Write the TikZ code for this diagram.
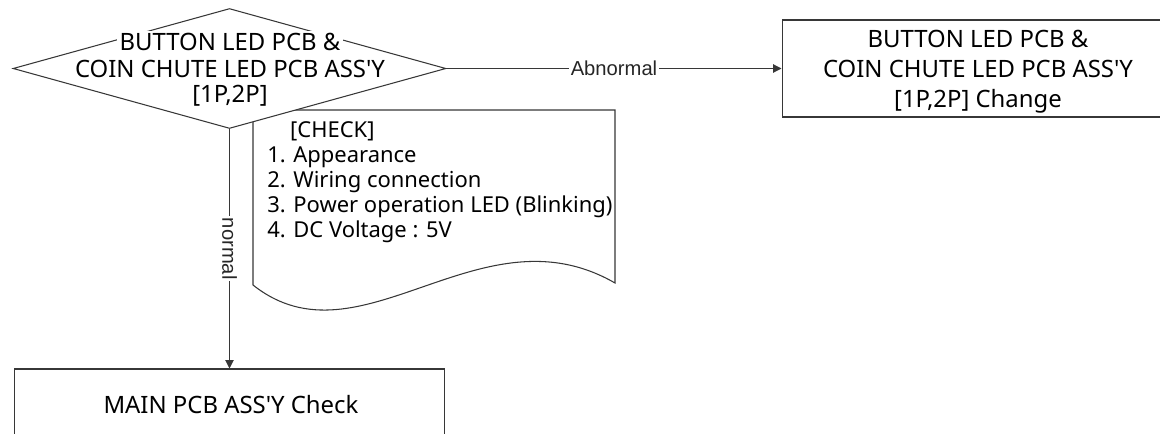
\documentclass[tikz,border=0pt]{standalone}
\usepackage{fontspec}
\setmainfont{Noto Sans}
\newfontfamily\labelfont{Liberation Sans}
\usetikzlibrary{arrows.meta,shapes.geometric,positioning}
\definecolor{lngray}{RGB}{55,55,55}
\tikzstyle{arrow} = [line width=0.6pt,draw=lngray,-{Triangle[length=4.8pt,width=4.8pt]}]
\tikzstyle{procbox} = [rectangle, draw=lngray, line width=0.6pt, fill=white, inner sep=0pt]
\tikzstyle{boxtext} = [align=center, inner sep=0pt, font=\fontsize{13.6}{17}\selectfont]
\tikzstyle{dtext} = [fill=white, inner sep=1.5pt, font=\fontsize{13.6}{15}\selectfont]
\tikzstyle{linelabel} = [fill=white, inner sep=1pt, text=black!85, font=\labelfont\fontsize{11.5}{13}\selectfont]
\newcommand{\aps}{\textquotesingle}

\begin{document}
\begin{tikzpicture}[x=0.02cm, y=-0.02cm]
\clip (0,0) rectangle (1160,433);
% Check sheet
\draw[line width=0.6pt, draw=lngray, fill=white] (253,110) -- (615,110) -- (615,283) .. controls (480,205) and (360,370) .. (253,285) -- cycle;
\node[anchor=north west, align=left, inner sep=0pt, font=\fontsize{12.5}{14.2}\selectfont] (checklist) at (267,121) {\hspace*{13pt}[CHECK]\\
1. Appearance\\
2. Wiring connection\\
3. Power operation LED (Blinking)\\
4. DC Voltage : 5V};

% Decision
\node[diamond, draw=lngray, line width=0.6pt, fill=white, inner sep=0pt, minimum width=8.66cm, minimum height=2.4cm] (dia) at (229.5,68.5) {};
\node[dtext] (diaA) at (230,42) {BUTTON LED PCB \&};
\node[dtext] (diaB) at (230,69) {COIN CHUTE LED PCB ASS\aps Y};
\node[dtext] (diaC) at (230,96) {[1P,2P]};

% Change
\node[procbox, minimum width=7.84cm, minimum height=1.94cm] (chg) at (978,68.5) {};
\node[boxtext] (chgtxt) at (978,72) {BUTTON LED PCB \&\\COIN CHUTE LED PCB ASS\aps Y\\{}[1P,2P] Change};

% Main PCB
\node[procbox, minimum width=8.62cm, minimum height=1.52cm] (mainchk) at (229.5,407) {};
\node[boxtext] (mainchktxt) at (231,405) {MAIN PCB ASS\aps Y Check};

% Flow
\draw[arrow] (dia.east) -- node[linelabel] (lblabn) {Abnormal} (chg.west);
\draw[arrow] (dia.south) -- node[linelabel, rotate=-90] (lblnorm) {normal} (mainchk.north);
\end{tikzpicture}
\end{document}
